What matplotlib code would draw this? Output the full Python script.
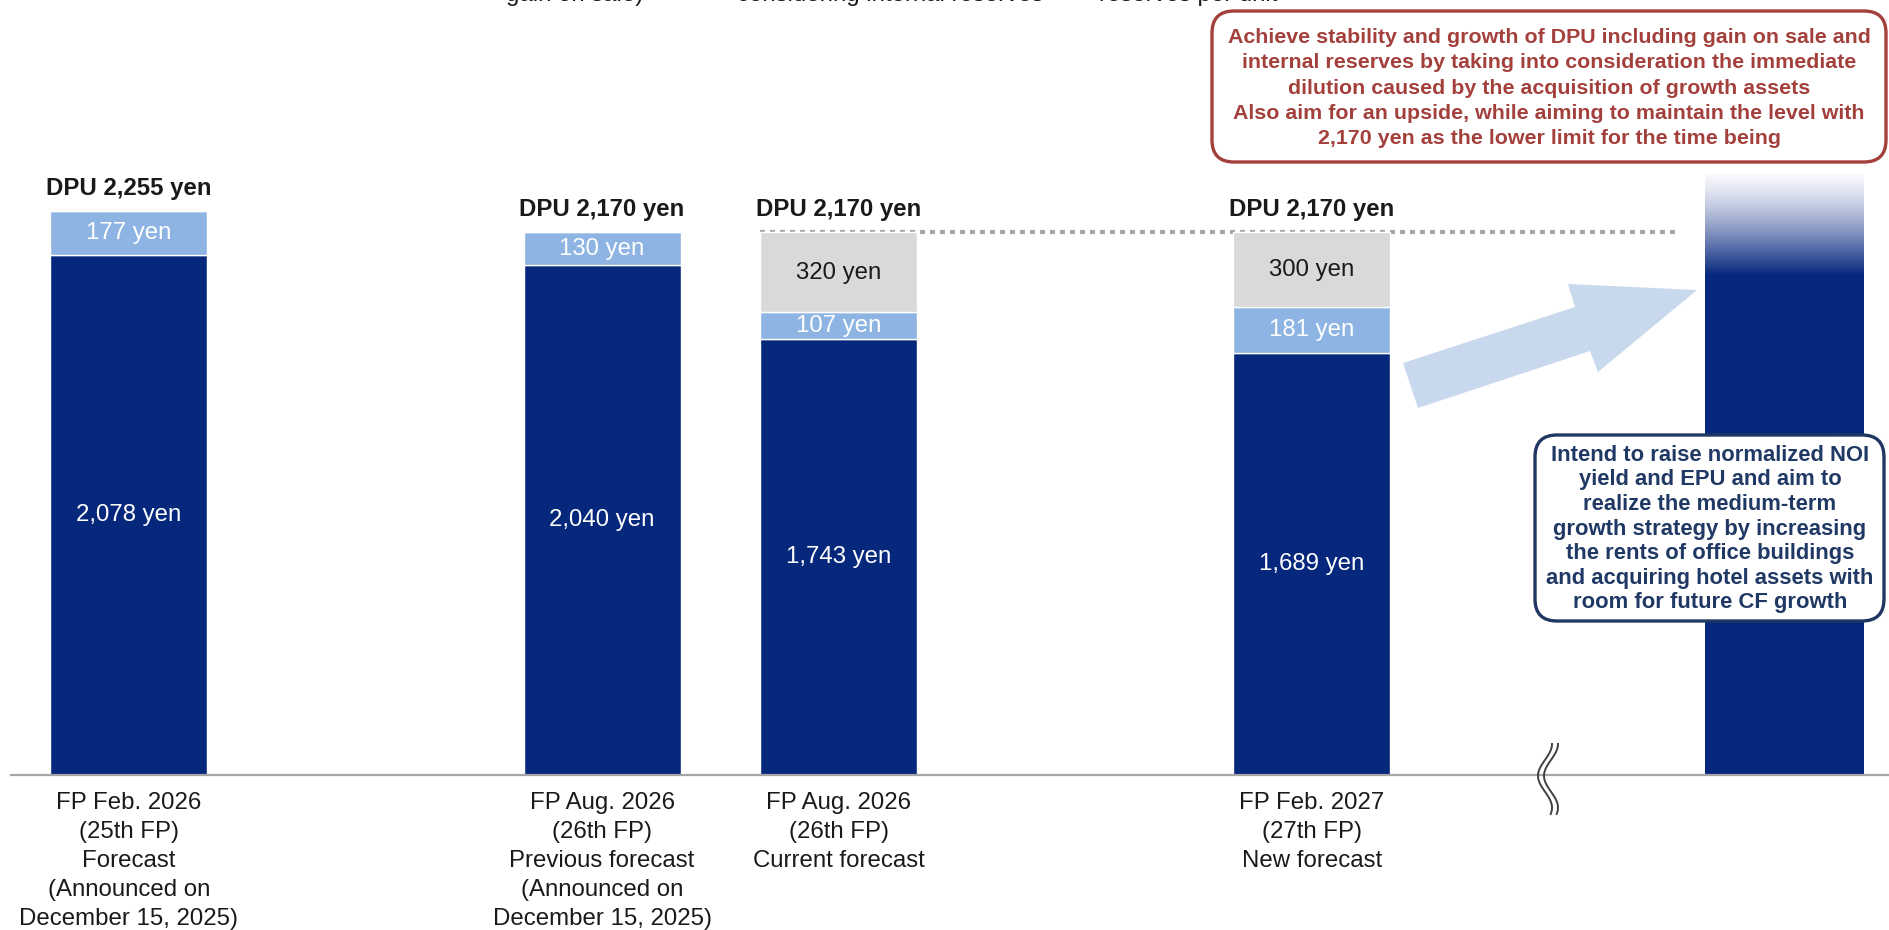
import numpy as np
import matplotlib
matplotlib.use("Agg")
import matplotlib.pyplot as plt
from matplotlib.patches import Polygon, FancyBboxPatch

plt.rcParams['font.family'] = ['Liberation Sans', 'DejaVu Sans']

# ---- data -------------------------------------------------------------
periods = [
    "FP Feb. 2026\n(25th FP)\nForecast\n(Announced on\nDecember 15, 2025)",
    "FP Aug. 2026\n(26th FP)\nPrevious forecast\n(Announced on\nDecember 15, 2025)",
    "FP Aug. 2026\n(26th FP)\nCurrent forecast",
    "FP Feb. 2027\n(27th FP)\nNew forecast",
]
positions = [0, 2, 3, 5]
base_dpu = [2078, 2040, 1743, 1689]          # navy segment
gain_on_sale = [177, 130, 107, 181]           # light blue segment
internal_reserves = [0, 0, 320, 300]          # gray segment
floor_dpu = 2170                              # lower-limit reference line

future_pos = 7
future_solid_top = 2000
future_fade_top = 2400

NAVY = "#05287d"
LIGHT = "#8eb4e3"
GRAY = "#d9d9d9"
RED = "#a3403c"
BLUE_TXT = "#1f3864"

W, H = 1889, 930
fig = plt.figure(figsize=(W / 100, H / 100), dpi=100)

base_y = 775
yscale = 0.25  # pixels per yen
ax = fig.add_axes([11 / W, (H - base_y) / H, (W - 11) / W, base_y / H])
for s in ['top', 'right', 'left']:
    ax.spines[s].set_visible(False)
ax.spines['bottom'].set_color('#a6a6a6')
ax.spines['bottom'].set_linewidth(1.6)
ax.set_yticks([])

bw = 0.664
ax.bar(positions, base_dpu, bw, color=NAVY, edgecolor='white', linewidth=1, zorder=2)
ax.bar(positions, gain_on_sale, bw, bottom=base_dpu, color=LIGHT,
       edgecolor='white', linewidth=1, zorder=2)
bottom3 = [a + b for a, b in zip(base_dpu, gain_on_sale)]
ax.bar(positions, internal_reserves, bw, bottom=bottom3, color=GRAY,
       edgecolor='white', linewidth=1, zorder=2)

fs = 17.3
for x, a, b, c in zip(positions, base_dpu, gain_on_sale, internal_reserves):
    ax.text(x, a / 2, f"{a:,} yen", ha='center', va='center', color='white', fontsize=fs, zorder=3)
    ax.text(x, a + b / 2, f"{b:,} yen", ha='center', va='center', color='white', fontsize=fs, zorder=3)
    if c:
        ax.text(x, a + b + c / 2, f"{c:,} yen", ha='center', va='center', color='#1a1a1a',
                fontsize=fs, zorder=3)
    total = a + b + c
    ax.annotate(f"DPU {total:,} yen", (x, total), xytext=(0, 16.5), textcoords='offset points',
                ha='center', va='center', fontsize=fs, fontweight='bold', color='#1a1a1a')

# lower-limit dotted line
ax.plot([positions[2] - bw / 2, 6.55], [floor_dpu, floor_dpu], color='#a6a6a6', lw=3,
        linestyle=(0, (1.2, 1.2)), dash_capstyle='butt', zorder=1)

# future bar with a fading top
fw = 0.672
grad_n = 256
vals = np.linspace(0, future_fade_top, grad_n)
alpha = np.where(vals <= future_solid_top, 1.0,
                 1 - (vals - future_solid_top) / (future_fade_top - future_solid_top))
navy_rgb = np.array(matplotlib.colors.to_rgb(NAVY))
img = np.ones((grad_n, 1, 3))
for i in range(grad_n):
    a = alpha[i] ** 1.3
    img[i, 0, :] = navy_rgb * a + np.array([0.97, 0.97, 0.99]) * (1 - a)
ax.imshow(img, extent=[future_pos - fw / 2, future_pos + fw / 2, 0, future_fade_top],
          origin='lower', aspect='auto', zorder=2, interpolation='bilinear')
ax.set_xlim(-0.4985, 7.44)
ax.set_ylim(0, base_y / yscale)

ax.set_xticks(positions)
ax.set_xticklabels(periods, fontsize=fs, color='#1a1a1a', linespacing=1.40)
ax.tick_params(axis='x', length=0, pad=12.5)

# ---- overlay for annotations (pixel coordinates) -----------------------
ov = fig.add_axes([0, 0, 1, 1], zorder=5)
ov.set_xlim(0, W)
ov.set_ylim(H, 0)
ov.axis('off')
ov.patch.set_alpha(0)

# upward arrow
arrow = Polygon([(1403, 363), (1575, 307), (1568, 284), (1697, 290), (1598, 372),
                 (1590, 351), (1418, 408)], closed=True, facecolor='#c9d9ed', edgecolor='none')
ov.add_patch(arrow)

# axis break mark
t = np.linspace(0, 1, 100)
for dx in (-3, 3):
    xs = 1548 + dx + 7 * np.cos(2.2 * np.pi * t)
    ys = 744 + 70 * t
    ov.plot(xs, ys, color='#404040', lw=1.4)

# legend lines continuing from above the chart
for cx, s in [(575, "gain on sale)"), (890, "considering internal reserves"), (1188, "reserves per unit")]:
    ov.text(cx, 1, s, ha='center', va='baseline', fontsize=fs, color='#1a1a1a')

# red message box
red_box = FancyBboxPatch((1212, 11), 674, 151, boxstyle="round,pad=0,rounding_size=22",
                         facecolor='white', edgecolor=RED, linewidth=2.4)
ov.add_patch(red_box)
ov.text(1549, 88,
        "Achieve stability and growth of DPU including gain on sale and\n"
        "internal reserves by taking into consideration the immediate\n"
        "dilution caused by the acquisition of growth assets\n"
        "Also aim for an upside, while aiming to maintain the level with\n"
        "2,170 yen as the lower limit for the time being",
        ha='center', va='center', fontsize=15.4, fontweight='bold', color=RED, linespacing=1.42)

# blue message box
blue_box = FancyBboxPatch((1535, 435), 349, 186, boxstyle="round,pad=0,rounding_size=22",
                          facecolor='white', edgecolor=BLUE_TXT, linewidth=2.4)
ov.add_patch(blue_box)
ov.text(1710, 529,
        "Intend to raise normalized NOI\n"
        "yield and EPU and aim to\n"
        "realize the medium-term\n"
        "growth strategy by increasing\n"
        "the rents of office buildings\n"
        "and acquiring hotel assets with\n"
        "room for future CF growth",
        ha='center', va='center', fontsize=15.8, fontweight='bold', color=BLUE_TXT, linespacing=1.22)

fig.savefig("out.png", dpi=100)
